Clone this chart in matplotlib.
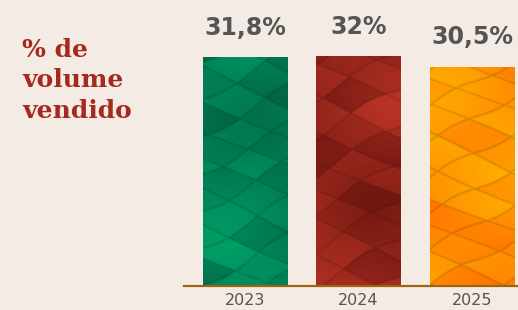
import numpy as np
import matplotlib
matplotlib.use('Agg')
import matplotlib.pyplot as plt
from matplotlib.colors import to_rgb

# dados
anos = ['2023', '2024', '2025']
valores = [31.8, 32.0, 30.5]
rotulos = ['31,8%', '32%', '30,5%']
cores = [('#005a3f', '#00a56a'),   # verde
         ('#68140e', '#bf3526'),   # vermelho
         ('#ff6c00', '#ffb800')]   # laranja

fundo = '#f4ece4'


def textura(c0, c1, fase, nx=90, ny=240):
    # padrão de "escamas" determinístico com gradiente
    yy, xx = np.mgrid[0:ny, 0:nx].astype(float)
    luz = 0.5 + 0.3 * np.sin(yy / 45 + xx / 60 + fase) + 0.15 * np.sin(yy / 28 - xx / 35 + 2 * fase)
    a = (xx * 0.4 + yy * 0.92 + 4 * np.sin(yy / 23 + fase)) / 30
    b = (-xx * 0.5 + yy * 0.87 + 4 * np.sin(xx / 17 + fase)) / 34
    i, j = np.floor(a), np.floor(b)
    h = np.sin(i * 12.9898 + j * 78.233 + fase) * 43758.5453
    tom = h - np.floor(h)
    da = np.minimum(a - i, 1 - (a - i))
    db = np.minimum(b - j, 1 - (b - j))
    linha = np.clip(np.minimum(da, db) / 0.05, 0, 1)
    v = np.clip(0.6 * luz + 0.4 * tom, 0, 1)
    c0, c1 = np.array(to_rgb(c0)), np.array(to_rgb(c1))
    img = c0 + (c1 - c0) * v[..., None]
    img = img * (0.84 + 0.16 * linha[..., None])
    return np.clip(img, 0, 1)


fig = plt.figure(figsize=(5.18, 3.10), dpi=100, facecolor=fundo)
ax = fig.add_axes([184 / 518, 24 / 310, 334 / 518, 286 / 310])
ax.set_facecolor('none')

x = np.arange(len(anos))
barras = ax.bar(x, valores, width=0.74, color='none', edgecolor='none')
for k, (barra, (c0, c1)) in enumerate(zip(barras, cores)):
    x0, w, hgt = barra.get_x(), barra.get_width(), barra.get_height()
    im = ax.imshow(textura(c0, c1, fase=1.7 * k), extent=[x0, x0 + w, 0, hgt],
                   aspect='auto', origin='lower', interpolation='bilinear', zorder=2)
    im.set_clip_path(barra)

for xi, v, r in zip(x, valores, rotulos):
    ax.annotate(r, (xi, v), xytext=(0, 12.5), textcoords='offset points',
                ha='center', va='bottom', fontsize=17, fontweight='bold', color='#555555')

ax.set_xlim(-0.537, 2.405)
ax.set_ylim(0, 39.8)
ax.set_xticks(x)
ax.set_xticklabels(anos, fontsize=11.5, color='#555555')
ax.tick_params(axis='x', length=0, pad=5)
ax.set_yticks([])
for s in ['top', 'left', 'right']:
    ax.spines[s].set_visible(False)
ax.spines['bottom'].set_color('#9c6410')
ax.spines['bottom'].set_linewidth(1.6)
ax.spines['bottom'].set_zorder(3)

fig.text(22 / 518, 1 - 38 / 310, '% de\nvolume\nvendido', ha='left', va='top',
         fontsize=18, fontweight='bold', family='DejaVu Serif', color='#a52a1e',
         linespacing=1.33)

fig.savefig('out.png', dpi=100, facecolor=fundo)
